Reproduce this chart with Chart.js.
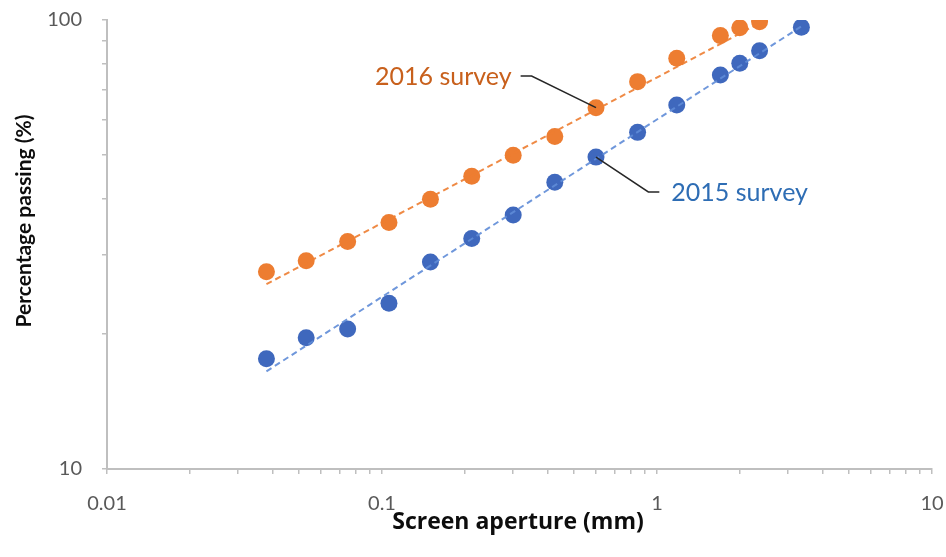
<!DOCTYPE html>
<html><head><meta charset="utf-8">
<script src="https://cdn.jsdelivr.net/npm/chart.js@4/dist/chart.umd.min.js"></script>
<style>html,body{margin:0;padding:0;background:#fff}canvas{display:block}</style>
</head><body>
<canvas id="c" width="946" height="557"></canvas>
<script>
// Sieve analysis: cumulative percentage passing per screen aperture
const apertures = [0.038, 0.053, 0.075, 0.106, 0.15, 0.212, 0.3, 0.425, 0.6, 0.85, 1.18, 1.7, 2.0, 2.36, 3.35];
const passing2015 = [17.6, 19.6, 20.5, 23.4, 28.9, 32.6, 36.8, 43.5, 49.5, 56.2, 64.7, 75.4, 80.1, 85.4, 96.3];
const passing2016 = [27.5, 29.1, 32.1, 35.4, 39.9, 44.9, 50.0, 55.0, 63.8, 72.9, 82.2, 92.3, 96.1, 99.1];
// power-law trend lines, evaluated at the first and last aperture of each survey
const trend2015 = [16.5, 96.8];
const trend2016 = [25.8, 98.4];
const xMajorTicks = [0.01, 0.1, 1, 10];
const yMajorTicks = [10, 100];

const FONT = 'Lato, "Open Sans", sans-serif';
const ORANGE = '#ed7d31', BLUE = '#3f68bd';

function pts(xs, ys) { return ys.map((y, i) => ({ x: xs[i], y })); }
function ends(xs, n, ys) { return [{ x: xs[0], y: ys[0] }, { x: xs[n - 1], y: ys[1] }]; }

// log-axis ticks: every 1..9 multiple inside each decade
function logTicks(majors) {
  const out = [];
  for (let i = 0; i < majors.length - 1; i++)
    for (let k = 1; k <= 9; k++) out.push(+(majors[i] * k).toPrecision(6));
  out.push(majors[majors.length - 1]);
  return out;
}
function isMajor(v, majors) { return majors.some(m => Math.abs(v - m) / m < 1e-6); }

const callouts = [
  { text: '2016 survey', color: '#c8601c', series: passing2016, index: 8, elbow: { x: 0.35, y: 75 }, side: 'left' },
  { text: '2015 survey', color: '#2e6db4', series: passing2015, index: 8, elbow: { x: 0.93, y: 41.4 }, side: 'right' }
];

const decorations = {
  id: 'decorations',
  afterDatasetsDraw(chart) {
    const { ctx, scales: { x, y } } = chart;
    ctx.save();
    ctx.font = '25px ' + FONT;
    ctx.textBaseline = 'middle';
    for (const c of callouts) {
      const px = x.getPixelForValue(apertures[c.index]);
      const py = y.getPixelForValue(c.series[c.index]);
      const ex = x.getPixelForValue(c.elbow.x);
      const ey = y.getPixelForValue(c.elbow.y);
      const tx = c.side === 'left' ? ex - 11 : ex + 11;
      ctx.strokeStyle = '#262626';
      ctx.lineWidth = 1.5;
      ctx.beginPath();
      ctx.moveTo(px, py);
      ctx.lineTo(ex, ey);
      ctx.lineTo(tx, ey);
      ctx.stroke();
      ctx.fillStyle = c.color;
      ctx.textAlign = c.side === 'left' ? 'right' : 'left';
      ctx.fillText(c.text, c.side === 'left' ? tx - 9 : tx + 12, ey + 1);
    }
    ctx.restore();
  },
  afterDraw(chart) {
    const { ctx } = chart;
    ctx.save();
    ctx.fillStyle = '#0d0d0d';
    ctx.textAlign = 'center';
    ctx.textBaseline = 'middle';
    ctx.font = 'bold 23px "Open Sans", Lato, sans-serif';
    ctx.fillText('Screen aperture (mm)', 518, 522);
    ctx.font = 'bold 21px ' + FONT;
    ctx.translate(24, 221);
    ctx.rotate(-Math.PI / 2);
    ctx.fillText('Percentage passing (%)', 0, 0);
    ctx.restore();
  }
};

const axisCommon = {
  type: 'logarithmic',
  border: { display: true, color: '#bfbfbf', width: 2 },
  grid: { drawOnChartArea: false, drawTicks: true, tickLength: 5, color: '#bfbfbf', lineWidth: 1.5 },
};

new Chart(document.getElementById('c'), {
  type: 'scatter',
  data: {
    datasets: [
      { label: '2016 survey', data: pts(apertures, passing2016), backgroundColor: ORANGE, borderColor: ORANGE,
        pointRadius: 8.5, pointHoverRadius: 8.5, borderWidth: 0, order: 2 },
      { label: '2015 survey', data: pts(apertures, passing2015), backgroundColor: BLUE, borderColor: BLUE,
        pointRadius: 8.5, pointHoverRadius: 8.5, borderWidth: 0, order: 2 },
      { label: 'Trend 2016', data: ends(apertures, passing2016.length, trend2016), showLine: true,
        borderColor: 'rgba(237,125,49,0.9)', borderWidth: 2, borderDash: [6, 4], pointRadius: 0, order: 1 },
      { label: 'Trend 2015', data: ends(apertures, passing2015.length, trend2015), showLine: true,
        borderColor: 'rgba(95,140,215,0.9)', borderWidth: 2, borderDash: [6, 4], pointRadius: 0, order: 1 }
    ]
  },
  options: {
    responsive: false,
    animation: false,
    devicePixelRatio: 1,
    layout: { padding: { top: 20, right: 14, left: 0, bottom: 0 } },
    plugins: { legend: { display: false }, tooltip: { enabled: false } },
    scales: {
      x: {
        ...axisCommon,
        min: 0.01, max: 10,
        afterBuildTicks: s => { s.ticks = logTicks(xMajorTicks).map(v => ({ value: v })); },
        afterFit: s => { s.height = 88; s.paddingLeft = 0; s.paddingRight = 0; },
        ticks: {
          autoSkip: false, maxRotation: 0, padding: 18, color: '#595959', font: { family: FONT, size: 20 },
          callback: v => isMajor(v, xMajorTicks) ? String(v) : ''
        }
      },
      y: {
        ...axisCommon,
        min: 10, max: 100,
        afterBuildTicks: s => { s.ticks = logTicks(yMajorTicks).map(v => ({ value: v })); },
        afterFit: s => { s.width = 107; s.paddingTop = 0; s.paddingBottom = 0; },
        ticks: {
          autoSkip: false, padding: 20, color: '#595959', font: { family: FONT, size: 20 },
          callback: v => isMajor(v, yMajorTicks) ? String(v) : ''
        }
      }
    }
  },
  plugins: [decorations]
});
</script>
</body></html>
